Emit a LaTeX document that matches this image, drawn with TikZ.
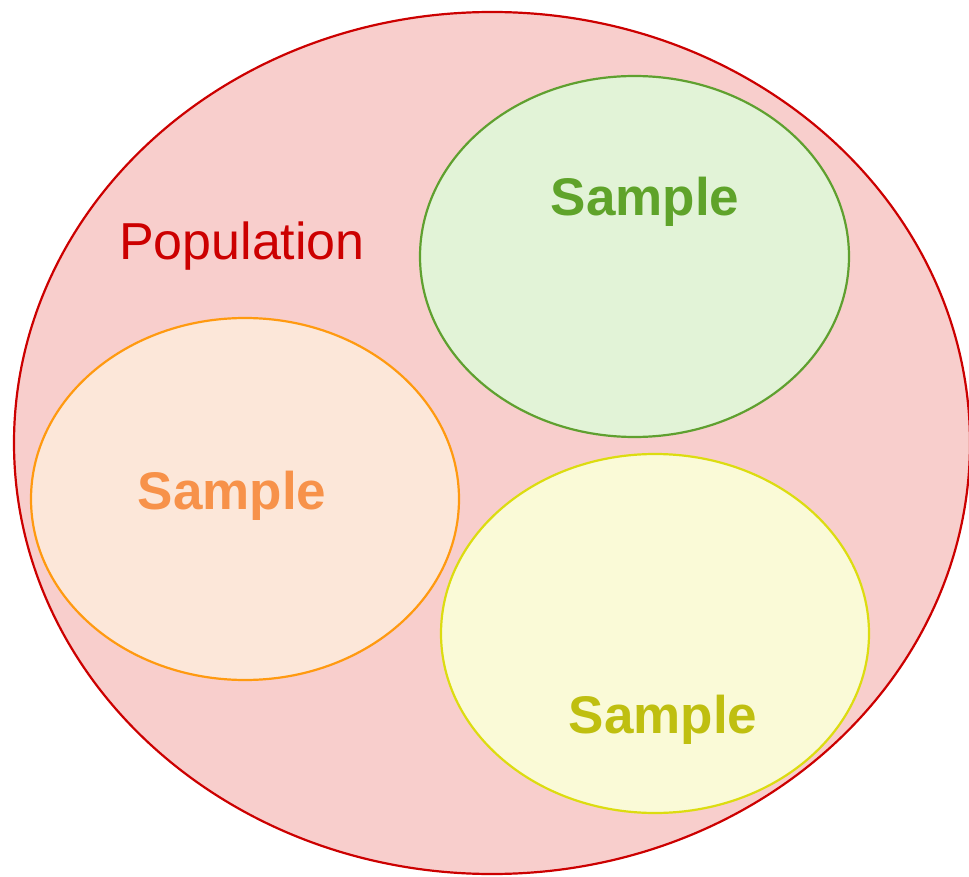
\documentclass[tikz,border=0pt]{standalone}
\usepackage{fontspec}
\setmainfont{Liberation Sans}
\usetikzlibrary{shapes.geometric}
\definecolor{popfill}{HTML}{F8CECC}
\definecolor{popline}{HTML}{CC0000}
\definecolor{grfill}{HTML}{E2F3D7}
\definecolor{grline}{HTML}{5FA02F}
\definecolor{grtext}{HTML}{5FA32A}
\definecolor{orfill}{HTML}{FCE7D9}
\definecolor{orline}{HTML}{FF9A10}
\definecolor{ortext}{HTML}{F7924A}
\definecolor{yefill}{HTML}{FAFAD7}
\definecolor{yeline}{HTML}{DCDC10}
\definecolor{yetext}{HTML}{BFBF10}
\tikzset{
  blob/.style={ellipse, line width=2.2pt, inner sep=0pt},
  samplelabel/.style={font=\fontsize{53}{60}\selectfont\bfseries, inner sep=0pt}
}
\begin{document}
\begin{tikzpicture}[x=1pt,y=-1pt]
\useasboundingbox (0,0) rectangle (969,877);
\clip (0,0) rectangle (969,877);
\node[blob, draw=popline, fill=popfill, minimum width=956, minimum height=862] (pop) at (492,443) {};
\node[blob, draw=grline, fill=grfill, minimum width=429, minimum height=361] (green) at (634.5,256.5) {};
\node[blob, draw=orline, fill=orfill, minimum width=428, minimum height=362] (orange) at (245,499) {};
\node[blob, draw=yeline, fill=yefill, minimum width=428, minimum height=359] (yellow) at (655,633.5) {};
\node[text=popline, font=\fontsize{52}{60}\selectfont, inner sep=0pt] (poplabel) at (242,246) {Population};
\node[samplelabel, text=grtext] (glabel) at (645,202) {Sample};
\node[samplelabel, text=ortext] (olabel) at (232,496) {Sample};
\node[samplelabel, text=yetext] (ylabel) at (663,720) {Sample};
\end{tikzpicture}
\end{document}
